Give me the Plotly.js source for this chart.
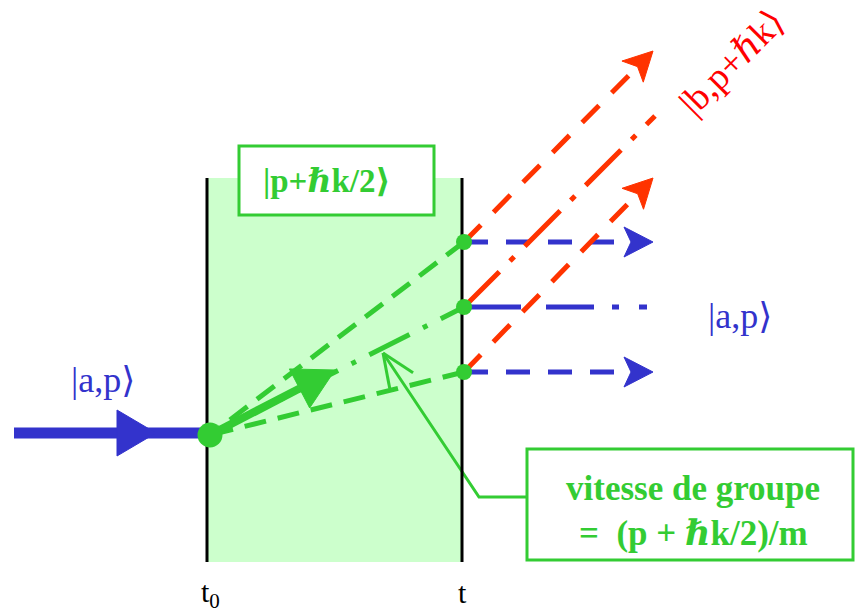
<!DOCTYPE html>
<html>
<head>
<meta charset="utf-8">
<script src="https://cdn.plot.ly/plotly-3.0.1.min.js"></script>
<style>html,body{margin:0;padding:0;background:#fff;}#chart{width:855px;height:614px;}</style>
</head>
<body>
<div id="chart"></div>
<script>
// ---- diagram data (drawing units = pixels of the 855x614 canvas) ----
const timeX = [207, 462];
const timeLabels = ['t<sub>0</sub>', 't'];
const zoneTop = 178, zoneBottom = 562;
const sourcePoint = [210, 435];
const incomingX = [14, 207];
const incomingY = 433;
const exitX = 464;
const exitY = [242, 307, 372];
const pathStyles = ['dash', 'dashdot', 'dash'];
const redEndX = [653, 655, 653];
const redEndY = [51, 116, 178];
const redArrow = [true, false, true];
const blueEndX = [653, 653, 653];
const blueArrow = [true, false, true];
const groupArrowTip = [335, 370];
const pointerX = [527, 479, 383];
const pointerY = [497, 497, 353];
const ketBoxX = [239, 434], ketBoxY = [146, 215];
const speedBoxX = [527, 853], speedBoxY = [449, 560];

const GREEN = '#33cc33', LIGHT = '#ccffcc', BLUE = '#3333cc', RED = '#ff3300', REDTXT = '#ff0000';
const SERIF = 'Liberation Serif, DejaVu Serif, serif';

const dashes = {
  green: {dash: '22px,12px',
          dashdot: '26px,15px,5px,15px,45px,15px,5px,15px,45px,15px,5px,15px,45px,15px,5px,15px'},
  blue: {dash: '24px,18px', dashdot: '57px,25px,48px,18px,7px,20px,8px'},
  red: {dash: '24px,18px', dashdot: '50px,15px,6px,15px'}
};

function head(tx, ty, fx, fy, len, hw, notch) {
  const dx = tx - fx, dy = ty - fy, d = Math.hypot(dx, dy);
  const ux = dx / d, uy = dy / d, nx = -uy, ny = ux;
  const bx = tx - len * ux, by = ty - len * uy;
  const mx = tx - (len - notch) * ux, my = ty - (len - notch) * uy;
  return {
    x: [tx, bx + hw * nx, mx, bx - hw * nx, tx],
    y: [ty, by + hw * ny, my, by - hw * ny, ty],
    back: [mx, my]
  };
}

const traces = [];
function line(x, y, color, width, dash) {
  traces.push({x, y, type: 'scatter', mode: 'lines', hoverinfo: 'skip',
    line: {color, width, dash: dash || 'solid', shape: 'linear'}});
}
function poly(p, color) {
  traces.push({x: p.x, y: p.y, type: 'scatter', mode: 'lines', fill: 'toself',
    fillcolor: color, line: {color, width: 1}, hoverinfo: 'skip'});
}

// green paths inside the zone (drawn from the exit point back to the source)
exitY.forEach((y, i) => {
  line([exitX, sourcePoint[0]], [y, sourcePoint[1]], GREEN, 5, dashes.green[pathStyles[i]]);
});
// group velocity arrow
const gh = head(groupArrowTip[0], groupArrowTip[1], sourcePoint[0], sourcePoint[1], 40, 22, 0);
line([sourcePoint[0], gh.back[0]], [sourcePoint[1], gh.back[1]], GREEN, 8);
poly(gh, GREEN);
// pointer line with open arrowhead
line(pointerX, pointerY, GREEN, 3);
(function () {
  const tx = pointerX[2], ty = pointerY[2], fx = pointerX[1], fy = pointerY[1];
  const a = Math.atan2(fy - ty, fx - tx);
  [0.40, -0.40].forEach(da => {
    line([tx, tx + 36 * Math.cos(a + da)], [ty, ty + 36 * Math.sin(a + da)], GREEN, 3);
  });
})();
// time boundaries
timeX.forEach(x => line([x, x], [zoneTop, zoneBottom], '#000', 3));
// incoming wave
line(incomingX, [incomingY, incomingY], BLUE, 11);
poly(head(156, incomingY, 100, incomingY, 39, 23, 0), BLUE);
// outgoing blue (state a) and red (state b)
exitY.forEach((y, i) => {
  if (blueArrow[i]) {
    const h = head(blueEndX[i], y, exitX, y, 29, 15, 7);
    line([exitX, h.back[0]], [y, y], BLUE, 5, dashes.blue[pathStyles[i]]);
    poly(h, BLUE);
  } else {
    line([exitX, blueEndX[i]], [y, y], BLUE, 5, dashes.blue[pathStyles[i]]);
  }
});
exitY.forEach((y, i) => {
  if (redArrow[i]) {
    const h = head(redEndX[i], redEndY[i], exitX, y, 29, 15, 7);
    line([exitX, h.back[0]], [y, h.back[1]], RED, 5, dashes.red[pathStyles[i]]);
    poly(h, RED);
  } else {
    line([exitX, redEndX[i]], [y, redEndY[i]], RED, 5, dashes.red[pathStyles[i]]);
  }
});
// dots
traces.push({x: exitY.map(() => exitX), y: exitY, type: 'scatter', mode: 'markers',
  marker: {color: GREEN, size: 16}, hoverinfo: 'skip'});
traces.push({x: [sourcePoint[0]], y: [sourcePoint[1]], type: 'scatter', mode: 'markers',
  marker: {color: GREEN, size: 25}, hoverinfo: 'skip'});

const shapes = [
  {type: 'rect', xref: 'x', yref: 'y', x0: timeX[0], x1: timeX[1], y0: zoneTop, y1: zoneBottom,
   fillcolor: LIGHT, line: {width: 0}, layer: 'below'},
  {type: 'rect', xref: 'x', yref: 'y', x0: ketBoxX[0], x1: ketBoxX[1], y0: ketBoxY[0], y1: ketBoxY[1],
   fillcolor: '#fff', line: {color: GREEN, width: 3}, layer: 'above'},
  {type: 'rect', xref: 'x', yref: 'y', x0: speedBoxX[0], x1: speedBoxX[1], y0: speedBoxY[0], y1: speedBoxY[1],
   fillcolor: '#fff', line: {color: GREEN, width: 3}, layer: 'above'}
];

function txt(x, y, text, color, size, extra) {
  return Object.assign({x, y, xref: 'x', yref: 'y', text, showarrow: false,
    font: {family: SERIF, color, size}, xanchor: 'center', yanchor: 'middle'}, extra || {});
}
const annotations = [
  txt(103, 380, '|a,p\u27E9', BLUE, 36),
  txt(740, 316, '|a,p\u27E9', BLUE, 36),
  txt(327, 181, '<b>|p+\u210Fk/2\u27E9</b>', GREEN, 33),
  txt(731, 62, '|b,p+\u210Fk\u27E9', REDTXT, 37, {textangle: -45}),
  txt(693, 488, '<b>vitesse de groupe</b>', GREEN, 35),
  txt(693, 533, '<b>=\u00A0 (p + \u210Fk/2)/m</b>', GREEN, 35),
  txt(timeX[0] + 3, 594, timeLabels[0], '#000', 30),
  txt(timeX[1], 592, timeLabels[1], '#000', 30)
];

const layout = {
  width: 855, height: 614, margin: {l: 0, r: 0, t: 0, b: 0},
  paper_bgcolor: '#fff', plot_bgcolor: '#fff', showlegend: false,
  xaxis: {range: [0, 855], visible: false, fixedrange: true},
  yaxis: {range: [614, 0], visible: false, fixedrange: true},
  shapes, annotations
};
Plotly.newPlot('chart', traces, layout, {staticPlot: true, displayModeBar: false});
</script>
</body>
</html>
